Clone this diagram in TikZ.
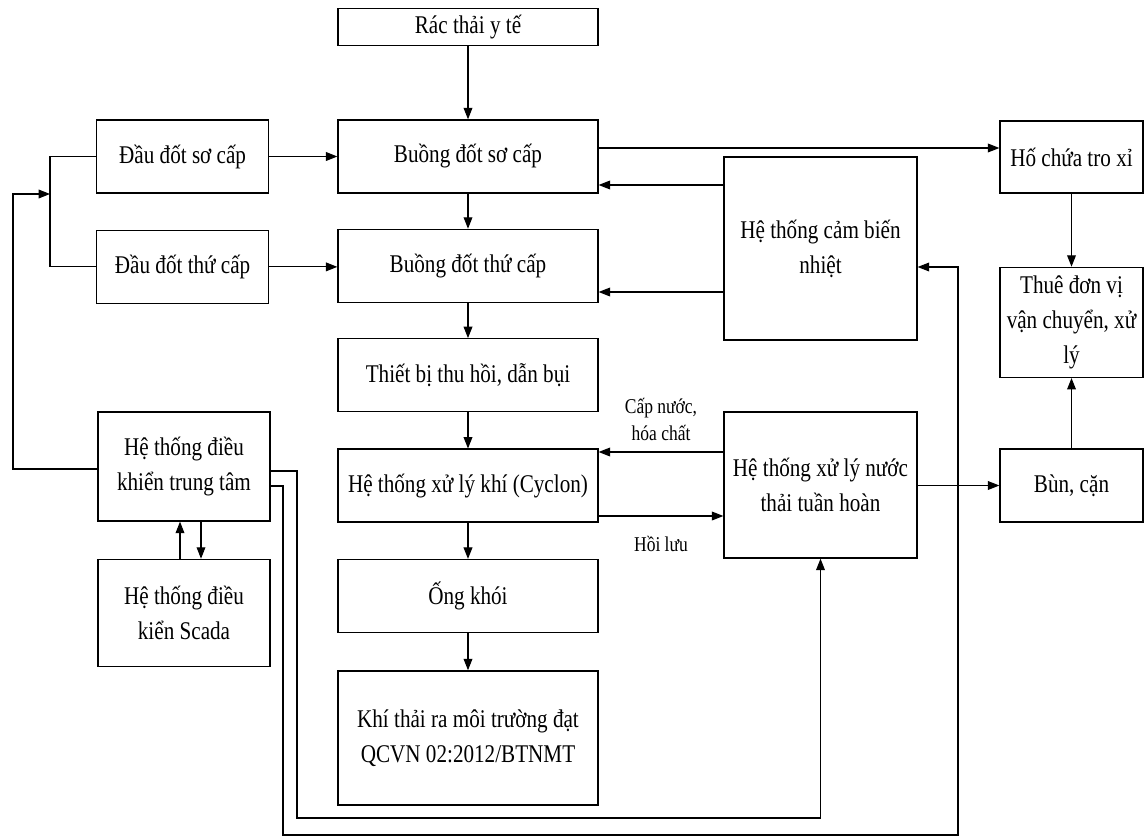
\documentclass[tikz,border=0pt]{standalone}
\usepackage{fontspec}
\setmainfont{Liberation Serif}[FakeStretch=0.83]
\usetikzlibrary{arrows.meta,positioning}
\tikzset{
    %Define standard arrow tip
    >={Triangle[length=6.5pt,width=5pt]},
    %Define style for boxes
    boks/.style={
           rectangle,
           draw=black, line width=0.8pt,
           inner sep=1pt,
           align=center,
           font=\fontsize{14.5}{20}\selectfont},
    % Define arrow style
    pil/.style={
           ->,
           line width=0.6pt},
    linje/.style={
           line width=0.6pt},
    % Define style for arrow labels
    etikett/.style={
           font=\fontsize{12}{15}\selectfont,
           align=center}
}
\begin{document}
\begin{tikzpicture}[x=0.02cm, y=-0.02cm, node distance=0.7cm]
\useasboundingbox (0,0) rectangle (1144,838);
% centre column
\node[boks, minimum width=5.2cm, minimum height=1.46cm] (bsc) at (468,156.5) {Buồng đốt sơ cấp};
\node[boks, minimum width=5.2cm, minimum height=0.74cm, above=1.46cm of bsc] (rac) {Rác thải y tế};
\node[boks, minimum width=5.2cm, minimum height=1.46cm, below=of bsc] (btc) {Buồng đốt thứ cấp};
\node[boks, minimum width=5.2cm, minimum height=1.46cm, below=of btc] (tbi) {Thiết bị thu hồi, dẫn bụi};
\node[boks, minimum width=5.2cm, minimum height=1.46cm, below=0.72cm of tbi] (cyc) {Hệ thống xử lý khí (Cyclon)};
\node[boks, minimum width=5.2cm, minimum height=1.46cm, below=0.72cm of cyc] (okh) {Ống khói};
\node[boks, minimum width=5.2cm, minimum height=2.68cm, below=0.74cm of okh] (kth) {Khí thải ra môi trường đạt\\QCVN 02:2012/BTNMT};
% left column
\node[boks, minimum width=3.44cm, minimum height=1.46cm, left=1.36cm of bsc] (dsc) {Đầu đốt sơ cấp};
\node[boks, minimum width=3.44cm, minimum height=1.46cm, below=0.72cm of dsc] (dtc) {Đầu đốt thứ cấp};
\node[boks, minimum width=3.44cm, minimum height=2.18cm] (dkh) at (184,466.5) {Hệ thống điều\\khiển trung tâm};
\node[boks, minimum width=3.44cm, minimum height=2.14cm, below=0.74cm of dkh] (scd) {Hệ thống điều\\kiển Scada};
% right part
\node[boks, minimum width=3.86cm, minimum height=3.66cm] (cbn) at (820.5,248.5) {Hệ thống cảm biến\\nhiệt};
\node[boks, minimum width=3.86cm, minimum height=2.92cm] (xln) at (820.5,485) {Hệ thống xử lý nước\\thải tuần hoàn};
\node[boks, minimum width=2.86cm, minimum height=1.44cm] (hct) at (1071.5,157) {Hố chứa tro xỉ};
\node[boks, minimum width=2.86cm, minimum height=2.2cm, below=1.46cm of hct] (thu) {Thuê đơn vị\\vận chuyển, xử\\lý};
\node[boks, minimum width=2.86cm, minimum height=1.46cm] (bun) at (1071.5,485.5) {Bùn, cặn};

% main flow
\draw[pil] (rac) -- (bsc);
\draw[pil] (bsc) -- (btc);
\draw[pil] (btc) -- (tbi);
\draw[pil] (tbi) -- (cyc);
\draw[pil] (cyc) -- (okh);
\draw[pil] (okh) -- (kth);
\draw[pil] (dsc) -- (bsc);
\draw[pil] (dtc.east) -- (dtc.east -| btc.west);
\draw[pil] (bsc.east |- 0,148) -- (hct.west |- 0,148);
\draw[pil] (cbn.west |- 0,185) -- (bsc.east |- 0,185);
\draw[pil] (cbn.west |- 0,292) -- (btc.east |- 0,292);
\draw[pil] (hct) -- (thu);
\draw[pil] (bun) -- (thu);
\draw[pil] (xln.east |- bun.west) -- (bun.west);
\draw[pil] (xln.west |- 0,452) -- node[etikett, above=3pt] {Cấp nước,\\hóa chất} (cyc.east |- 0,452);
\draw[pil] (cyc.east |- 0,516) -- node[etikett, below=8pt] {Hồi lưu} (xln.west |- 0,516);

% control loops
\coordinate (venstre) at (13,194);
\coordinate (skinne) at (50,194);
\draw[pil] (dkh.west |- 0,469) -| (venstre) -- (skinne);
\draw[linje] (dsc.west) -- (dsc.west -| skinne) -- (dtc.west -| skinne) -- (dtc.west);
\draw[pil] (scd.north -| 180,0) -- (dkh.south -| 180,0);
\draw[pil] (dkh.south -| 201,0) -- (scd.north -| 201,0);
\coordinate (indre) at (297,818);
\coordinate (ytre) at (283,835);
\coordinate (opp) at (958,267);
\draw[pil] (dkh.east |- 0,471) -| (indre) -| (xln.south);
\draw[pil] (dkh.east |- 0,486) -| (ytre) -| (opp) -- (cbn.east |- opp);
\end{tikzpicture}
\end{document}
